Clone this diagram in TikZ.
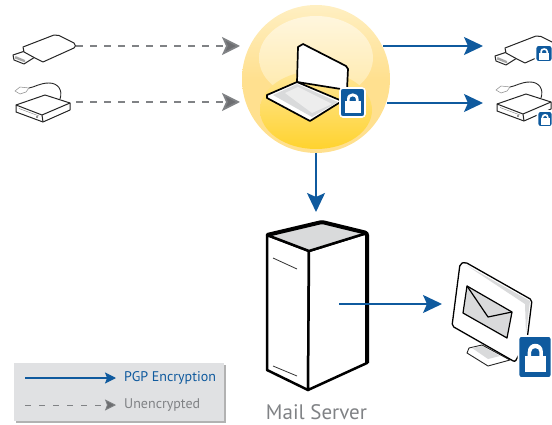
\documentclass[tikz,border=0pt]{standalone}
\usepackage{fontspec}
\setmainfont{PT Sans}
\usetikzlibrary{arrows.meta}
\definecolor{pgpblue}{HTML}{0F5A9E}
\definecolor{plaingrey}{HTML}{808285}
\definecolor{tipgrey}{HTML}{6D6E71}
\definecolor{panelgrey}{HTML}{E0E1E3}
\definecolor{iconfill}{HTML}{D9DADB}
\definecolor{balltop}{HTML}{FFEFC2}
\definecolor{ballside}{HTML}{FFE08F}
\definecolor{glowtop}{HTML}{FFF6DE}
\definecolor{glowlow}{HTML}{FFE9A8}
\definecolor{sunktop}{HTML}{FFE698}
\definecolor{sunklow}{HTML}{FFD32E}
\tikzset{
    pgparrow/.style={draw=pgpblue, line width=1.6pt, -{Stealth[length=19pt,width=18pt,inset=4pt,fill=pgpblue]}},
    plainarrow/.style={draw=plaingrey, line width=1.7pt, dash pattern=on 7pt off 7pt, -{Stealth[length=18pt,width=18pt,inset=4pt,fill=tipgrey]}},
    keypgp/.style={draw=pgpblue, line width=1.1pt, -{Stealth[length=11pt,width=11pt,inset=2pt,fill=pgpblue]}},
    keyplain/.style={draw=plaingrey, line width=.8pt, dash pattern=on 6pt off 8pt, -{Stealth[length=11pt,width=11pt,inset=2pt,fill=tipgrey]}},
    iconline/.style={draw=black!85, line width=1pt, line join=round, fill=white},
    lockback/.style={draw=white, line width=1.6pt, fill=pgpblue, rounded corners=3pt},
}
\newcommand{\lockicon}[3]{%
    \begin{scope}[shift={(#1)}, xscale=#2, yscale=#3]
        \path[lockback] (-12.5,-14.5) rectangle (12.5,14.5);
        \fill[white] (-7.5,-1) rectangle (8,10.5);
        \fill[white] (-5.5,0) -- (-5.5,-3.5) .. controls (-5.5,-11) and (6,-11) .. (6,-3.5) -- (6,0) -- (3.4,0)
            -- (3.4,-3.5) .. controls (3.4,-7) and (-2.9,-7) .. (-2.9,-3.5) -- (-2.9,0) -- cycle;
    \end{scope}}
\newcommand{\usbicon}{%
    % plug
    \path[iconline] (13,55) -- (25,51) -- (35,57) -- (24,64) -- (14,60) -- cycle;
    \fill[black!35] (15.5,56) -- (25,60) -- (25,62.5) -- (15,58.5) -- cycle;
    % body
    \path[iconline] (23,47) -- (54,35) .. controls (56,34.5) and (57,34.5) .. (59,35.5) -- (74,43)
        .. controls (76,45) and (76,47) .. (74,48) -- (43,62) -- (35,58) -- (24,52) -- cycle;}
\newcommand{\diskicon}{%
    % cable
    \draw[black!85, line width=.9pt] (60,99) .. controls (63,90) and (58,83) .. (49,83) .. controls (40,83) and (35,87) .. (29,88);
    \path[draw=black!45, line width=.5pt, fill=white] (15,91) -- (20,87) -- (29,88) -- (26,92) -- (20,94) -- cycle;
    % case
    \path[iconline] (16,105) -- (45,95) -- (70,103) -- (70,110) -- (43,122) -- (16,112) -- cycle;
    \draw[black!85, line width=1pt] (16,105) -- (42,115) -- (70,103) (42,115) -- (43,122);
    \draw[black!50, line width=.4pt] (19,108.5) -- (39,116);
    \fill[black!80] (37,117) circle (.8);}
\begin{document}
\begin{tikzpicture}[x=1pt, y=-1pt]
    \useasboundingbox (0,0) rectangle (552,425);
    \clip (0,0) rectangle (552,425);

    % yellow ball
    \shade[top color=balltop, bottom color=ballside, middle color=ballside] (316,79) circle (74);
    \shade[top color=glowtop, bottom color=glowlow] (316,58) ellipse (57 and 42);
    \shade[top color=sunktop, bottom color=sunklow] (316,110) ellipse (56 and 39);

    % laptop
    \path[draw=black, line width=1.7pt, line join=round, fill=white] (297,82) -- (298,47) -- (303,44) -- (346,66) -- (348,69) -- (347,90) -- cycle;
    \path[draw=black, line width=1.7pt, line join=round, fill=white] (267,95) -- (297,82) -- (342,101) -- (310,121) -- (267,98) -- cycle;
    \fill[iconfill] (273,95) -- (297,84) -- (338,102) -- (312,117) -- cycle;
    \fill[white!93!black] (285,93) -- (298,87) -- (332,104) -- (312,113) -- cycle;
    \lockicon{352.5,102.5}{1}{1}

    % usb sticks and disks
    \usbicon
    \diskicon
    \begin{scope}[shift={(482,1)}]
        \usbicon
    \end{scope}
    \begin{scope}[shift={(481,-1)}]
        \diskicon
    \end{scope}
    \lockicon{544,53.5}{.68}{.58}
    \lockicon{545,119}{.6}{.55}

    % server
    \path[draw=black, line width=2.5pt, line join=round, fill=white] (267,235) -- (309,251) -- (308,390) -- (267,370) -- cycle;
    \path[draw=black, line width=2.5pt, line join=round, fill=white] (309,251) -- (367,233) -- (367,363) -- (308,390) -- cycle;
    \path[draw=black, line width=2.5pt, line join=round, fill=iconfill] (267,235) -- (322,222) -- (367,233) -- (309,251) -- cycle;
    \draw[black, line width=4pt, line join=round, rounded corners=2pt] (267,235) -- (322,222) -- (367,233) -- (367,363);
    \draw[black!80, line width=.8pt] (273,258) -- (297,269);
    \draw[black!80, line width=.8pt] (273,366) -- (297,376);
    \node[text=plaingrey, font=\fontsize{21}{24}\selectfont, anchor=base, inner sep=0pt] (mailserver) at (316.5,419.5) {Mail Server};

    % monitor
    \path[iconline, line width=.9pt] (469,348) -- (482,345) -- (510,360) -- (488,366) -- (467,353) -- cycle;
    \fill[iconfill] (472,348) -- (482,346) -- (500,356) -- (488,359) -- cycle;
    \path[draw=black, line width=1.3pt, line join=round, rounded corners=2pt, fill=white] (465,262) -- (532,300) -- (527,340) -- (515,362) -- (452,326) -- (460,264) -- cycle;
    \fill[iconfill] (466,265) -- (530,301) -- (526,334) -- (525,304) -- cycle;
    \path[draw=black, line width=1.2pt, line join=round, fill=iconfill] (467,286) -- (512,312) -- (507,338) -- (463,313) -- cycle;
    \draw[black, line width=1.2pt, line join=round] (467,286) -- (488,317) -- (512,312);
    \lockicon{535,357}{1.32}{1.45}

    % end points of the arrows
    \coordinate (usbin) at (76,46);
    \coordinate (ballin1) at (240,46);
    \coordinate (diskin) at (76,102);
    \coordinate (ballin2) at (240,102);
    \coordinate (ballout1) at (383,46);
    \coordinate (usbout) at (483,46);
    \coordinate (ballout2) at (387,103);
    \coordinate (diskout) at (483,103);
    \coordinate (ballout3) at (316,153);
    \coordinate (servertop) at (316,212);
    \coordinate (serverout) at (339,304);
    \coordinate (monitorin) at (442,304);

    % unencrypted
    \draw[plainarrow] (usbin) -- (ballin1);
    \draw[plainarrow] (diskin) -- (ballin2);
    % encrypted
    \draw[pgparrow] (ballout1) -- (usbout);
    \draw[pgparrow] (ballout2) -- (diskout);
    \draw[pgparrow] (ballout3) -- (servertop);
    \draw[pgparrow] (serverout) -- (monitorin);

    % key
    \fill[black!30] (15.5,364.5) rectangle (226,422.5);
    \fill[panelgrey] (14,363) rectangle (224,421);
    \coordinate (keyfrom1) at (25,378);
    \coordinate (keyto1) at (116,378);
    \coordinate (keyfrom2) at (25,405);
    \coordinate (keyto2) at (116,405);
    \draw[keypgp] (keyfrom1) -- (keyto1);
    \draw[keyplain] (keyfrom2) -- (keyto2);
    \node[text=pgpblue, font=\fontsize{14}{16}\selectfont, anchor=west, inner sep=0pt] (pgplabel) at (124,378) {PGP Encryption};
    \node[text=plaingrey, font=\fontsize{14}{16}\selectfont, anchor=west, inner sep=0pt] (plainlabel) at (124,405) {Unencrypted};
\end{tikzpicture}
\end{document}
